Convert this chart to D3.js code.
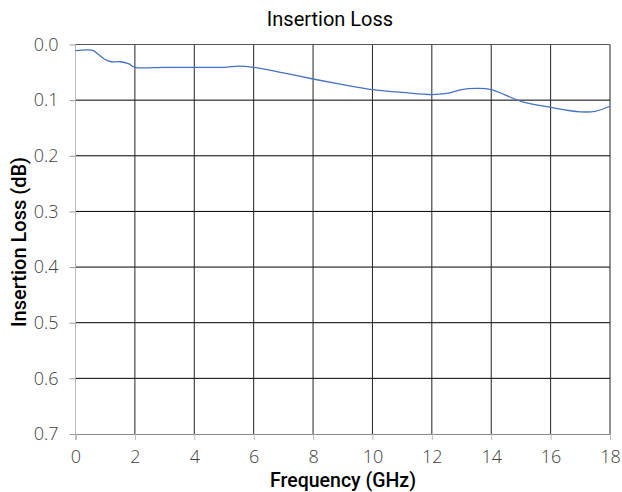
<!DOCTYPE html>
<html><head><meta charset="utf-8">
<script src="https://cdn.jsdelivr.net/npm/d3@7"></script>
<style>body{margin:0;background:#fff;} svg{display:block;}</style>
</head><body>
<svg id="c" width="622" height="492"></svg>
<script>
const freq = [0,0.4,0.6,0.8,1.0,1.2,1.5,1.8,2,3,4,5,5.5,6,7,8,9,10,11,12,12.5,13,13.5,14,15,16,17,17.5,18];
const loss = [0.011,0.0098,0.011,0.019,0.027,0.031,0.031,0.035,0.041,0.041,0.041,0.041,0.039,0.041,0.051,0.062,0.072,0.081,0.086,0.090,0.088,0.081,0.079,0.081,0.102,0.113,0.121,0.120,0.111];
const xTicks = [0,2,4,6,8,10,12,14,16,18];
const yTicks = [0,0.1,0.2,0.3,0.4,0.5,0.6,0.7];
const titleText = "Insertion Loss";
const xTitle = "Frequency (GHz)";
const yTitle = "Insertion Loss (dB)";

const svg = d3.select("#c");
const L = 75.5, R = 610, T = 44.5, B = 434;
const x = d3.scaleLinear().domain([0,18]).range([L,R]);
const y = d3.scaleLinear().domain([0,0.7]).range([T,B]);

// horizontal grid
svg.append("g").selectAll("line").data(yTicks.slice(1,-1)).join("line")
  .attr("x1",L).attr("x2",R).attr("y1",d=>y(d)).attr("y2",d=>y(d))
  .attr("stroke","#000").attr("stroke-width",1);
// vertical grid
svg.append("g").selectAll("line").data(xTicks.slice(1)).join("line")
  .attr("x1",d=>x(d)).attr("x2",d=>x(d)).attr("y1",T).attr("y2",B)
  .attr("stroke","#222").attr("stroke-width",1);
// top border
svg.append("line").attr("x1",L).attr("x2",R).attr("y1",T).attr("y2",T).attr("stroke","#555");

const tickFont = "'Open Sans', sans-serif";
// x axis
const xa = svg.append("g").attr("transform",`translate(0,${B})`)
  .call(d3.axisBottom(x).tickValues(xTicks).tickFormat(d3.format("d")).tickSize(6).tickPadding(10));
xa.select(".domain").attr("stroke","#888");
xa.selectAll(".tick line").attr("stroke","#bbb");
xa.selectAll("text").attr("font-family",tickFont).attr("font-size",18).attr("font-weight",300).attr("fill","#404040");
// y axis
const ya = svg.append("g").attr("transform",`translate(${L},0)`)
  .call(d3.axisLeft(y).tickValues(yTicks).tickFormat(d3.format(".1f")).tickSize(6).tickPadding(11));
ya.select(".domain").attr("stroke","#bbb").attr("d",`M0,${T}V${B+6}`);
ya.selectAll(".tick line").attr("stroke","#999");
ya.selectAll("text").attr("font-family",tickFont).attr("font-size",18).attr("font-weight",300).attr("fill","#404040");

// line
const line = d3.line().x((d,i)=>x(freq[i])).y(d=>y(d)).curve(d3.curveCatmullRom.alpha(0.5));
svg.append("path").datum(loss).attr("d",line).attr("fill","none")
  .attr("stroke","#4472c4").attr("stroke-width",1.3);

// titles
svg.append("text").attr("x",330).attr("y",26).attr("text-anchor","middle")
  .attr("font-family","Roboto, sans-serif").attr("font-size",20).attr("fill","#000").text(titleText);
svg.append("text").attr("x",343).attr("y",487).attr("text-anchor","middle")
  .attr("font-family","Roboto, sans-serif").attr("font-size",19.5).attr("font-weight",500).attr("fill","#000").text(xTitle);
svg.append("text").attr("transform","translate(26,242) rotate(-90)").attr("text-anchor","middle")
  .attr("font-family","Roboto, sans-serif").attr("font-size",20).attr("font-weight",500).attr("fill","#000").text(yTitle);
</script>
</body></html>
